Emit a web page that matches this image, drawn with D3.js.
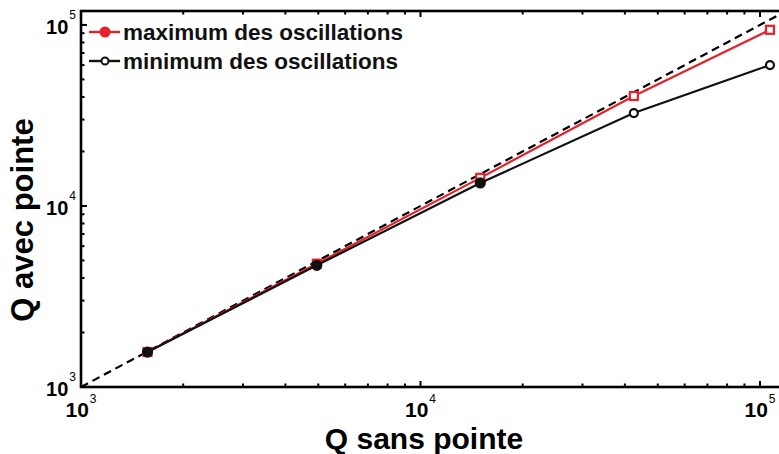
<!DOCTYPE html>
<html>
<head>
<meta charset="utf-8">
<script src="https://cdn.jsdelivr.net/npm/d3@7"></script>
<style>
  html, body { margin: 0; padding: 0; background: #fff; }
  svg { display: block; font-family: "Liberation Sans", Arial, sans-serif; }
</style>
</head>
<body>
<svg id="chart" width="779" height="454"></svg>
<script>
// Q without tip (x) vs Q with tip (y), log-log
const qSans = [1570, 4950, 15000, 42500, 107000];
const qMax  = [1560, 4800, 14300, 40500, 94000];
const qMin  = [1560, 4700, 13400, 32600, 60000];
const seriesNames = ["maximum des oscillations", "minimum des oscillations"];
const decadeTicks = [1e3, 1e4, 1e5];
const decadeExp = ["3", "4", "5"];

const svg = d3.select("#chart");
const plotLeft = 81, plotBottom = 387, plotTop = 11, plotRight = 779;

const x = d3.scaleLog().domain([1e3, Math.pow(10, 5.056)]).range([plotLeft, plotRight]);
const y = d3.scaleLog().domain([1e3, Math.pow(10, 5.077)]).range([plotBottom, plotTop]);

// minor ticks from 2..9 per decade
function minorTicks(scale) {
  const [a, b] = scale.domain();
  const out = [];
  for (let e = Math.floor(Math.log10(a)); e <= Math.ceil(Math.log10(b)); e++) {
    for (let m = 2; m <= 9; m++) {
      const v = m * Math.pow(10, e);
      if (v > a && v < b) out.push(v);
    }
  }
  return out;
}

const axisStroke = 2.6;
const g = svg.append("g");

// frame: left, bottom, top (right edge lies past the view)
g.append("rect")
  .attr("x", plotLeft).attr("y", plotTop)
  .attr("width", plotRight + 10 - plotLeft).attr("height", plotBottom - plotTop)
  .attr("fill", "none").attr("stroke", "#000").attr("stroke-width", axisStroke);

// inward ticks on bottom and top
const xMajor = decadeTicks.filter(v => v > 1e3);
const xMin = minorTicks(x);
[[xMajor, 6], [xMin, 3.5]].forEach(([vals, len]) => {
  g.selectAll(null).data(vals).enter().append("line")
    .attr("x1", d => x(d)).attr("x2", d => x(d))
    .attr("y1", plotBottom).attr("y2", plotBottom - len)
    .attr("stroke", "#000").attr("stroke-width", 2);
  g.selectAll(null).data(vals).enter().append("line")
    .attr("x1", d => x(d)).attr("x2", d => x(d))
    .attr("y1", plotTop).attr("y2", plotTop + len)
    .attr("stroke", "#000").attr("stroke-width", 2);
});
// inward ticks on left
const yMajor = decadeTicks.filter(v => v > 1e3);
const yMin = minorTicks(y);
[[yMajor, 6], [yMin, 3.5]].forEach(([vals, len]) => {
  g.selectAll(null).data(vals).enter().append("line")
    .attr("y1", d => y(d)).attr("y2", d => y(d))
    .attr("x1", plotLeft).attr("x2", plotLeft + len)
    .attr("stroke", "#000").attr("stroke-width", 2);
});

// tick labels 10^n
decadeTicks.forEach((v, i) => {
  const t = svg.append("text")
    .attr("x", x(v)).attr("y", plotBottom + 30)
    .attr("text-anchor", "middle")
    .attr("font-size", 21).attr("font-weight", "bold");
  t.append("tspan").text("10");
  t.append("tspan").attr("dy", -14).attr("dx", 1).attr("font-size", 12).attr("font-weight", "normal").text(decadeExp[i]);

  const u = svg.append("text")
    .attr("x", plotLeft - 5).attr("y", y(v) + 9)
    .attr("text-anchor", "end")
    .attr("font-size", 20).attr("font-weight", "bold");
  u.append("tspan").text("10");
  u.append("tspan").attr("dy", -15).attr("dx", 1).attr("font-size", 12).attr("font-weight", "normal").text(decadeExp[i]);
});

// axis titles
svg.append("text")
  .attr("x", 424).attr("y", 449)
  .attr("text-anchor", "middle")
  .attr("font-size", 30).attr("font-weight", "bold")
  .text("Q sans pointe");
svg.append("text")
  .attr("transform", "translate(33,220) rotate(-90)")
  .attr("text-anchor", "middle")
  .attr("font-size", 31).attr("font-weight", "bold")
  .text("Q avec pointe");

const plot = svg.append("g");

// y = x reference, dashed
const diag = [1e3, Math.pow(10, 5.056)];
plot.append("line")
  .attr("x1", x(diag[0])).attr("y1", y(diag[0]))
  .attr("x2", x(diag[1])).attr("y2", y(diag[1]))
  .attr("stroke", "#000").attr("stroke-width", 2.2)
  .attr("stroke-dasharray", "8,5");

const line = d3.line().x(d => x(d[0])).y(d => y(d[1]));
const maxPts = qSans.map((q, i) => [q, qMax[i]]);
const minPts = qSans.map((q, i) => [q, qMin[i]]);

plot.append("path").attr("d", line(maxPts))
  .attr("fill", "none").attr("stroke", "#e8202a").attr("stroke-width", 2.2);
plot.selectAll(null).data(maxPts).enter().append("rect")
  .attr("x", d => x(d[0]) - 4).attr("y", d => y(d[1]) - 4)
  .attr("width", 8).attr("height", 8)
  .attr("fill", "#fff").attr("stroke", "#e8202a").attr("stroke-width", 2.2);

plot.append("path").attr("d", line(minPts))
  .attr("fill", "none").attr("stroke", "#111").attr("stroke-width", 2.2);
plot.selectAll(null).data(minPts).enter().append("circle")
  .attr("cx", d => x(d[0])).attr("cy", d => y(d[1]))
  .attr("r", d => d[0] < 2e4 ? 4.5 : 4)
  .attr("fill", d => d[0] < 2e4 ? "#111" : "#fff")
  .attr("stroke", "#111").attr("stroke-width", 2.2);

// legend
const legend = svg.append("g");
const legColors = ["#e8202a", "#111"];
seriesNames.forEach((name, i) => {
  const ly = 32 + i * 29;
  legend.append("line")
    .attr("x1", 89).attr("x2", 120).attr("y1", ly).attr("y2", ly)
    .attr("stroke", legColors[i]).attr("stroke-width", 2.4);
  legend.append("circle")
    .attr("cx", 105).attr("cy", ly).attr("r", i === 0 ? 4.5 : 3.5)
    .attr("fill", i === 0 ? legColors[i] : "#fff")
    .attr("stroke", legColors[i]).attr("stroke-width", 2);
  legend.append("text")
    .attr("x", 123).attr("y", ly + 8)
    .attr("font-size", 22.5).attr("font-weight", "bold")
    .attr("fill", "#111")
    .text(name);
});
</script>
</body>
</html>
